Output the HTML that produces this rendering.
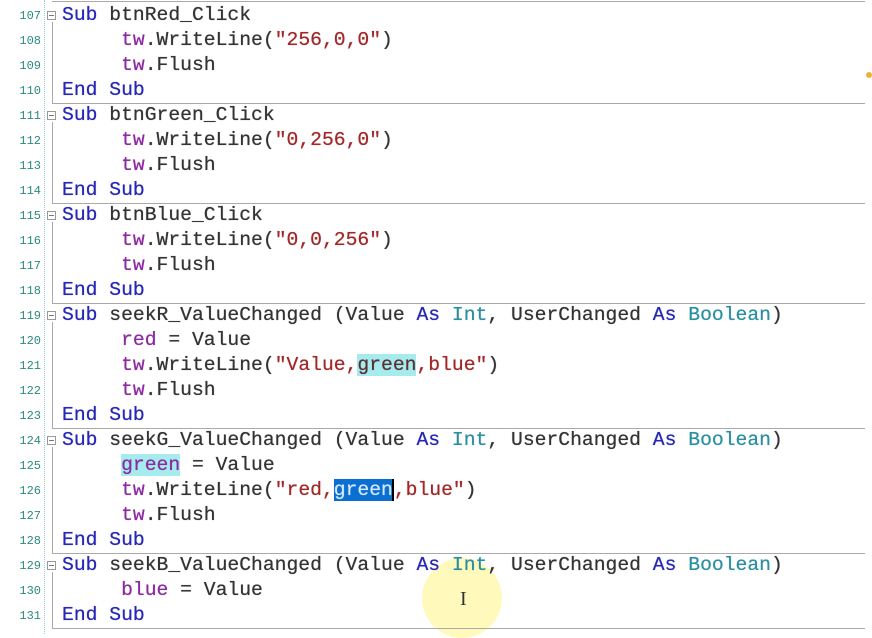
<!DOCTYPE html>
<html><head><style>
body{margin:0;width:872px;height:634px;background:#fff;overflow:hidden;position:relative;font-family:"Liberation Mono",monospace}
.ln{position:absolute;left:0;width:41px;text-align:right;font-size:12px;color:#2a8a80;font-family:"Liberation Mono",monospace}
.c{position:absolute;left:62px;font-size:19.7px;white-space:pre;color:#333;line-height:25px;text-shadow:0 0 0.6px currentColor}
.k{color:#2727b5}.t{color:#2b8fa0}.p{color:#8c2aa0}.s{color:#a02828}
.hl{background:#a6ecef}.sel{background:#0a6fd0;color:#d6e8ff}
.sep{position:absolute;left:52px;width:813px;height:1px;background:#aaa}
.bar{position:absolute;left:52px;width:1px;background:#aaa}
.fold{position:absolute;left:47px;width:7px;height:7px;border:1px solid #999;background:#fff}
.fold:after{content:"";position:absolute;left:1px;top:3px;width:5px;height:1px;background:#777}
</style></head><body>
<div style="position:absolute;left:44px;top:0;height:634px;border-left:1px dotted #9cc"></div>
<div style="position:absolute;left:422px;top:558px;width:80px;height:80px;border-radius:50%;background:#fff9b0;opacity:.85"></div>
<div style="position:absolute;left:866px;top:72px;width:6px;height:6px;border-radius:50%;background:#f0b040"></div>
<div class="sep" style="top:1px"></div>
<div id="w"></div>
<script>
const L=[
'<span class="k">Sub</span> btnRed_Click',
'     <span class="p">tw</span>.WriteLine(<span class="s">"256,0,0"</span>)',
'     <span class="p">tw</span>.Flush',
'<span class="k">End Sub</span>',
'<span class="k">Sub</span> btnGreen_Click',
'     <span class="p">tw</span>.WriteLine(<span class="s">"0,256,0"</span>)',
'     <span class="p">tw</span>.Flush',
'<span class="k">End Sub</span>',
'<span class="k">Sub</span> btnBlue_Click',
'     <span class="p">tw</span>.WriteLine(<span class="s">"0,0,256"</span>)',
'     <span class="p">tw</span>.Flush',
'<span class="k">End Sub</span>',
'<span class="k">Sub</span> seekR_ValueChanged (Value <span class="k">As</span> <span class="t">Int</span>, UserChanged <span class="k">As</span> <span class="t">Boolean</span>)',
'     <span class="p">red</span> = Value',
'     <span class="p">tw</span>.WriteLine(<span class="s">"Value,<span class="hl" style="color:#5a3030">green</span>,blue"</span>)',
'     <span class="p">tw</span>.Flush',
'<span class="k">End Sub</span>',
'<span class="k">Sub</span> seekG_ValueChanged (Value <span class="k">As</span> <span class="t">Int</span>, UserChanged <span class="k">As</span> <span class="t">Boolean</span>)',
'     <span class="p hl">green</span> = Value',
'     <span class="p">tw</span>.WriteLine(<span class="s">"red,<span class="sel">green</span><span style="border-left:2px solid #000;margin-left:-1px"></span>,blue"</span>)',
'     <span class="p">tw</span>.Flush',
'<span class="k">End Sub</span>',
'<span class="k">Sub</span> seekB_ValueChanged (Value <span class="k">As</span> <span class="t">Int</span>, UserChanged <span class="k">As</span> <span class="t">Boolean</span>)',
'     <span class="p">blue</span> = Value',
'<span class="k">End Sub</span>'];
const starts=[0,4,8,12,17,22],ends=[3,7,11,16,21,24];
let h='';
L.forEach((s,i)=>{const top=2.5+25*i;
h+=`<div class="ln" style="top:${top+6}px">${107+i}</div><div class="c" style="top:${top}px">${s}</div>`;});
starts.forEach((s,j)=>{const e=ends[j];
h+=`<div class="fold" style="top:${11+25*s}px"></div>`;
h+=`<div class="bar" style="top:${22+25*s}px;height:${25*(e-s)+6}px"></div>`;
h+=`<div class="sep" style="top:${27.5+25*e}px"></div>`;});
h+='<div style="position:absolute;left:460px;top:588px;font-size:20px;color:#333;font-family:Liberation Serif,serif">I</div>';
document.getElementById('w').innerHTML=h;
</script>
</body></html>
